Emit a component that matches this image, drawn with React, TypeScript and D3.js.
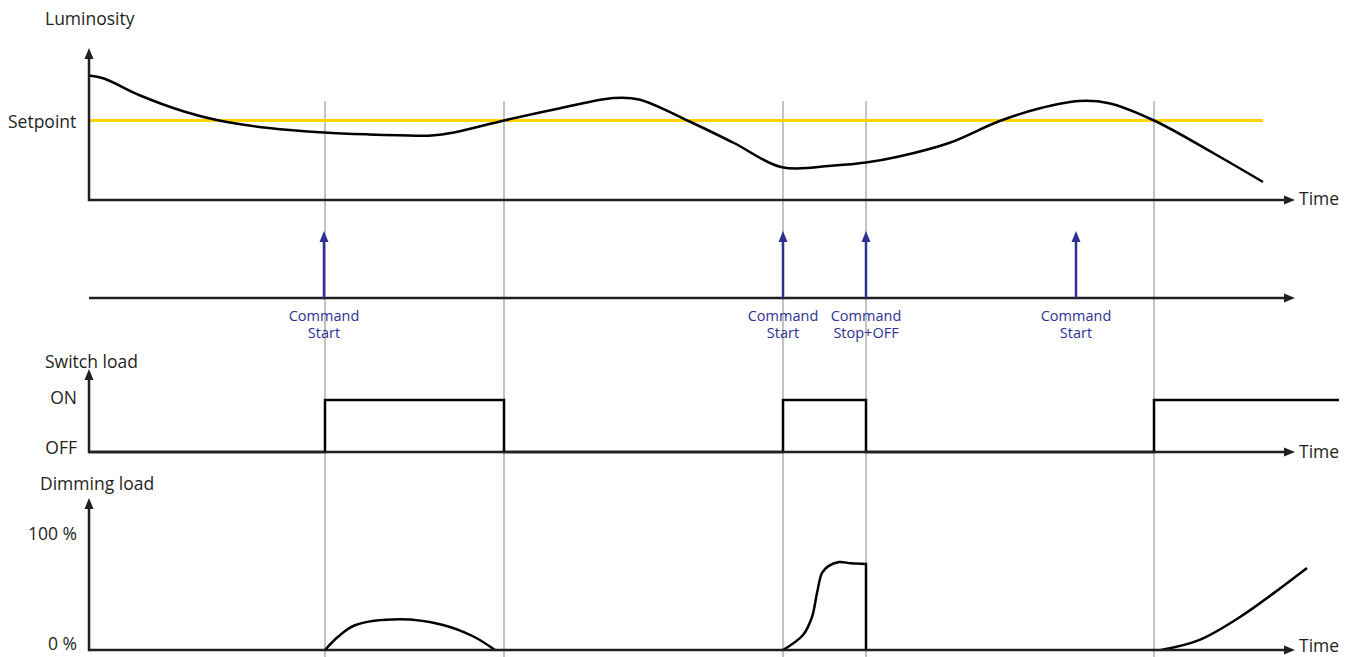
import React from 'react';
import * as d3 from 'd3';

// time axis is shared by all panels (arbitrary units)
const eventTimes = [23.6, 41.5, 69.4, 77.7, 106.5];

// luminosity curve
const lumTimes = [0, 1.5, 5, 9.5, 13, 18, 23.5, 28, 31, 34.3, 36.5, 41.5, 47, 52.5, 55, 60, 64.5, 69.3, 74.5, 77.7, 81, 86, 91, 95, 99, 102, 106.5, 112.5, 117.4];
const lumValues = [83, 81, 70, 59, 53, 48, 45, 43.7, 43.2, 43, 45, 53, 61, 68, 67, 52.5, 38, 21.8, 23, 25, 29, 38, 52.5, 61, 66, 64.5, 53, 31, 12];
const setpoint = 53;
const setpointEnd = 117.4;

// commands
const commandTimes = [23.5, 69.4, 77.7, 98.7];
const commandLabels = [
  ['Command', 'Start'],
  ['Command', 'Start'],
  ['Command', 'Stop+OFF'],
  ['Command', 'Start'],
];

// switch load (0 = OFF, 1 = ON)
const switchTimes = [0, 23.6, 41.5, 69.4, 77.7, 106.5, 125];
const switchStates = [0, 1, 0, 1, 0, 1, 1];

// dimming load, %
const dim1Times = [23.6, 24.9, 26.6, 31.1, 35.3, 38.4, 40.6];
const dim1Values = [0, 12, 22.5, 28, 23, 12.5, 0];
const dim2Times = [69.4, 71.4, 72.3, 72.8, 73.3, 73.9, 75, 76.2, 77.7];
const dim2Values = [0, 13.6, 30, 51.8, 70, 76, 80, 78.8, 78.2];
const dim3Times = [107.2, 111, 115.1, 119.3, 121.8];
const dim3Values = [0, 9, 30, 57.3, 74.5];
const dimStopTime = 77.7;

const W = 1354;
const H = 657;
const FONT = '"Open Sans", sans-serif';
const INK = '#231f20';
const BLUE = '#2e3192';

const x = d3.scaleLinear().domain([0, 125]).range([89, 1339]);
const arrowEnd = 1295;
const lumY = d3.scaleLinear().domain([0, 100]).range([200, 50]);
const cmdBase = 298;
const cmdTop = 231;
const swY = d3.scaleLinear().domain([0, 1]).range([452, 400]);
const dimY = d3.scaleLinear().domain([0, 100]).range([650, 540]);

type P = [number, number];
const zip = (a: number[], b: number[]): P[] => a.map((t, i) => [t, b[i]]);

function hArrow(y: number, x0: number, x1: number, color = INK) {
  return (
    <g>
      <line x1={x0} y1={y} x2={x1 - 8} y2={y} stroke={color} strokeWidth={2.5} />
      <path d={`M${x1},${y} L${x1 - 11},${y - 4.5} L${x1 - 11},${y + 4.5} Z`} fill={color} />
    </g>
  );
}

function vArrow(xp: number, y0: number, y1: number, color = INK, w = 2.5) {
  return (
    <g>
      <line x1={xp} y1={y0} x2={xp} y2={y1 + 8} stroke={color} strokeWidth={w} />
      <path d={`M${xp},${y1} L${xp - 4.5},${y1 + 11} L${xp + 4.5},${y1 + 11} Z`} fill={color} />
    </g>
  );
}

export default function App() {
  const smooth = d3.curveCatmullRom.alpha(0.5);
  const lumLine = d3.line<P>().x(d => x(d[0])).y(d => lumY(d[1])).curve(smooth);
  const swLine = d3.line<P>().x(d => x(d[0])).y(d => swY(d[1])).curve(d3.curveStepAfter);
  const dimLine = d3.line<P>().x(d => x(d[0])).y(d => dimY(d[1])).curve(smooth);

  const lumPath = lumLine(zip(lumTimes, lumValues)) || '';
  const swPath = swLine(zip(switchTimes, switchStates)) || '';
  const dim1 = dimLine(zip(dim1Times, dim1Values)) || '';
  const dim2 = (dimLine(zip(dim2Times, dim2Values)) || '') + `L${x(dimStopTime)},${dimY(0)}`;
  const dim3 = dimLine(zip(dim3Times, dim3Values)) || '';

  const x0 = x(0);

  const label = (txt: string, xp: number, yp: number, anchor = 'start', size = 17.5, color = INK) => (
    <text x={xp} y={yp} textAnchor={anchor} dominantBaseline="central" fontSize={size} fill={color} fontFamily={FONT}>{txt}</text>
  );

  return (
    <svg width={W} height={H} style={{ position: 'absolute', left: 0, top: 0, background: '#fff' }}>
      {/* event guide lines */}
      {eventTimes.map((t, i) => (
        <line key={i} x1={x(t)} x2={x(t)} y1={101} y2={H} stroke="#9a9a9a" strokeWidth={1.2} />
      ))}

      {/* luminosity panel */}
      {label('Luminosity', 45, 18)}
      {label('Setpoint', 8, lumY(setpoint))}
      <line x1={x0} x2={x(setpointEnd)} y1={lumY(setpoint)} y2={lumY(setpoint)} stroke="#ffd400" strokeWidth={3} />
      <path d={lumPath} fill="none" stroke="#000" strokeWidth={2.5} />
      {vArrow(x0, lumY(0) + 1.2, 48)}
      {hArrow(lumY(0), x0, arrowEnd)}
      {label('Time', 1299, lumY(0) - 2)}

      {/* command panel */}
      {hArrow(cmdBase, x0, arrowEnd)}
      {commandTimes.map((t, i) => (
        <g key={i}>
          {vArrow(x(t), cmdBase, cmdTop, BLUE, 2.5)}
          {commandLabels[i].map((s, j) => (
            <text key={j} x={x(t)} y={315 + j * 17} textAnchor="middle" dominantBaseline="central" fontSize={14.5} fill={BLUE} fontFamily={FONT}>{s}</text>
          ))}
        </g>
      ))}

      {/* switch load */}
      {label('Switch load', 45, 361)}
      {label('ON', 77, 397, 'end')}
      {label('OFF', 77, 447, 'end')}
      <path d={swPath} fill="none" stroke="#000" strokeWidth={2.5} />
      {vArrow(x0, swY(0) + 1.2, 369)}
      {hArrow(swY(0), x0, arrowEnd)}
      {label('Time', 1299, swY(0) - 1)}

      {/* dimming load */}
      {label('Dimming load', 40, 483)}
      {label('100 %', 77, 533, 'end')}
      {label('0 %', 77, 643, 'end')}
      <path d={dim1} fill="none" stroke="#000" strokeWidth={2.5} />
      <path d={dim2} fill="none" stroke="#000" strokeWidth={2.5} />
      <path d={dim3} fill="none" stroke="#000" strokeWidth={2.5} />
      {vArrow(x0, dimY(0) + 1.2, 498)}
      {hArrow(dimY(0), x0, arrowEnd)}
      {label('Time', 1299, dimY(0) - 5)}
    </svg>
  );
}
